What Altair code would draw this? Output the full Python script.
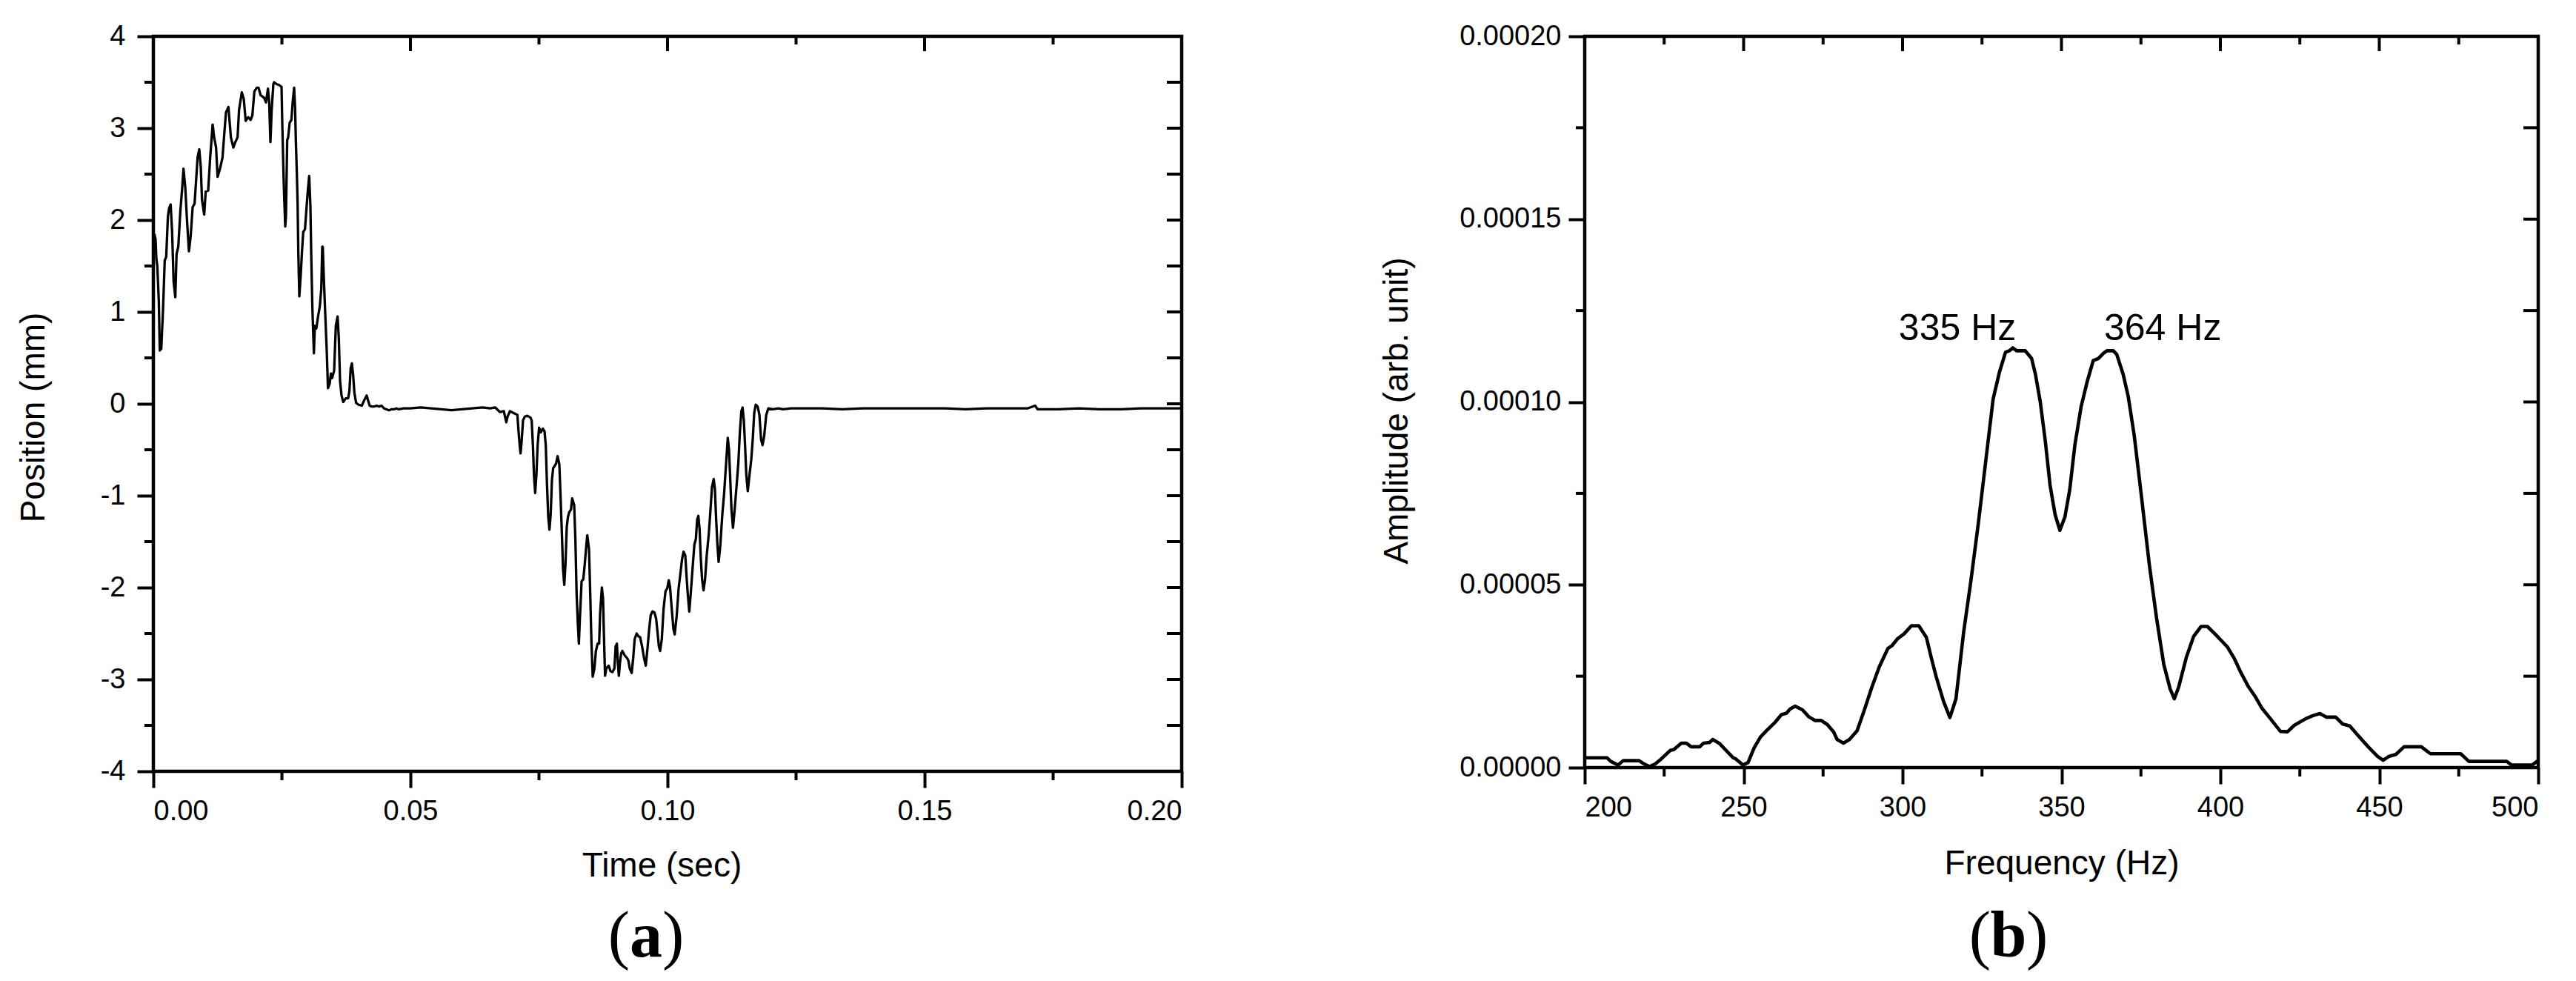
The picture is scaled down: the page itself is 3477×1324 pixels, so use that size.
import altair as alt
import pandas as pd

# ---------------- data: panel (a) position vs time (t in ms, position in mm) ----------------
rise = [(0.19, 1.85), (0.43, 1.79), (0.58, 1.58), (0.77, 1.50), (1.06, 1.12), (1.25, 0.58), (1.54, 0.60),
        (1.87, 1.01), (2.21, 1.56), (2.50, 1.60), (2.83, 2.04), (3.07, 2.13), (3.36, 2.17), (3.65, 1.87),
        (3.94, 1.33), (4.27, 1.16), (4.51, 1.63), (4.85, 1.71), (5.24, 2.09), (5.62, 2.36), (5.86, 2.56),
        (6.20, 2.36), (6.53, 2.01), (6.92, 1.66), (7.25, 1.82), (7.64, 2.14), (8.02, 2.18), (8.36, 2.47),
        (8.60, 2.68), (8.93, 2.77), (9.22, 2.58), (9.46, 2.22), (9.89, 2.06), (10.18, 2.31), (10.66, 2.32),
        (11.05, 2.68), (11.53, 3.04), (11.82, 2.90), (12.20, 2.79), (12.49, 2.47), (12.92, 2.55),
        (13.45, 2.68), (13.74, 2.90), (14.12, 3.17), (14.60, 3.23), (15.08, 2.90), (15.56, 2.79),
        (15.95, 2.85), (16.38, 2.90), (16.67, 3.20), (17.20, 3.39), (17.58, 3.32), (17.96, 3.08),
        (18.44, 3.12), (18.92, 3.09), (19.26, 3.14), (19.64, 3.40), (20.12, 3.44), (20.46, 3.44),
        (20.85, 3.36), (21.57, 3.33), (21.90, 3.28), (22.29, 3.43), (22.53, 3.28), (22.77, 2.85)]

fall = [(23.01, 3.20), (23.34, 3.48), (23.49, 3.50), (23.97, 3.48), (24.45, 3.47), (24.93, 3.45),
        (25.07, 3.06), (25.27, 2.60), (25.41, 2.31), (25.65, 1.93), (25.79, 2.04), (26.03, 2.87),
        (26.22, 2.90), (26.51, 3.06), (26.85, 3.09), (27.09, 3.28), (27.38, 3.44), (27.57, 3.22),
        (27.71, 2.87), (27.90, 2.52), (28.05, 2.20), (28.19, 1.66), (28.39, 1.17), (28.67, 1.41),
        (28.91, 1.66), (29.15, 1.87), (29.49, 1.90), (29.88, 2.20), (30.11, 2.36), (30.31, 2.48),
        (30.55, 2.14), (30.69, 1.66), (30.93, 1.04), (31.22, 0.55), (31.41, 0.85), (31.70, 0.82),
        (32.03, 0.95), (32.37, 1.06), (32.66, 1.25), (32.85, 1.71), (32.95, 1.71), (33.14, 1.39),
        (33.43, 0.98), (33.72, 0.58), (33.96, 0.17), (34.29, 0.22), (34.53, 0.33), (34.77, 0.28),
        (35.16, 0.36), (35.49, 0.85), (35.83, 0.95), (36.07, 0.71), (36.31, 0.25), (36.60, 0.09),
        (36.93, 0.02), (37.41, 0.06), (37.89, 0.06), (38.13, 0.14), (38.38, 0.39), (38.62, 0.44),
        (38.86, 0.31), (39.10, 0.12), (39.43, 0.01), (39.91, -0.01), (40.54, -0.02), (41.02, 0.04),
        (41.50, 0.09), (41.74, 0.04), (42.07, -0.02), (42.46, -0.03), (42.94, -0.03), (43.42, -0.02),
        (43.90, -0.03), (44.38, -0.02), (44.86, -0.05), (45.34, -0.06), (45.82, -0.07), (46.30, -0.06),
        (46.78, -0.06), (47.26, -0.05), (47.74, -0.06), (48.70, -0.05)]

rest1 = [(50.0, -0.05), (52.0, -0.04), (54.0, -0.05), (56.0, -0.06), (58.0, -0.07), (60.0, -0.06),
         (62.0, -0.05), (64.0, -0.04), (65.5, -0.05), (66.5, -0.04), (67.4, -0.09)]

dip = [(68.16, -0.08), (68.40, -0.14), (68.64, -0.20), (68.88, -0.14), (69.36, -0.08), (70.08, -0.10),
       (70.80, -0.12), (71.04, -0.31), (71.28, -0.47), (71.42, -0.54), (71.61, -0.42), (71.90, -0.18),
       (72.24, -0.14), (72.72, -0.13), (73.34, -0.15), (73.58, -0.18), (73.82, -0.45), (74.02, -0.77),
       (74.26, -0.97), (74.50, -0.77), (74.74, -0.45), (75.02, -0.26), (75.36, -0.31), (75.74, -0.27),
       (76.08, -0.30), (76.32, -0.45), (76.56, -0.88), (76.80, -1.23), (77.04, -1.37), (77.28, -1.20),
       (77.52, -0.83), (77.76, -0.70), (78.00, -0.68), (78.33, -0.65), (78.62, -0.57), (78.96, -0.66),
       (79.20, -1.01), (79.44, -1.39), (79.68, -1.80), (79.92, -1.97), (80.16, -1.74), (80.40, -1.34),
       (80.64, -1.23), (80.88, -1.18), (81.22, -1.15), (81.46, -1.03), (81.84, -1.10), (82.08, -1.47),
       (82.32, -2.07), (82.56, -2.39), (82.76, -2.61), (82.95, -2.34), (83.29, -1.93), (83.62, -1.91),
       (83.91, -1.74), (84.15, -1.58), (84.39, -1.43), (84.73, -1.58), (84.97, -2.07), (85.21, -2.61),
       (85.45, -2.97), (85.78, -2.88), (86.07, -2.69), (86.41, -2.61), (86.70, -2.61), (86.89, -2.28),
       (87.23, -2.00), (87.46, -2.12), (87.61, -2.47), (87.85, -2.96), (88.09, -2.88), (88.57, -2.85),
       (88.90, -2.91), (89.29, -2.92), (89.67, -2.88), (89.91, -2.64), (90.15, -2.61), (90.35, -2.83),
       (90.54, -2.96), (90.73, -2.83), (90.97, -2.72), (91.21, -2.69), (91.69, -2.74), (92.17, -2.77),
       (92.41, -2.80), (92.65, -2.88)]

recover = [(93.03, -2.93), (93.32, -2.77), (93.61, -2.56), (94.00, -2.50), (94.33, -2.53), (94.67, -2.54),
           (95.05, -2.64), (95.44, -2.77), (95.77, -2.85), (96.11, -2.66), (96.40, -2.47), (96.73, -2.30),
           (97.07, -2.26), (97.45, -2.27), (97.79, -2.34), (98.08, -2.50), (98.32, -2.64), (98.56, -2.69),
           (98.89, -2.56), (99.23, -2.23), (99.61, -2.04), (99.95, -2.01), (100.24, -1.92), (100.48, -1.99),
           (100.82, -2.23), (101.15, -2.45), (101.39, -2.51), (101.78, -2.31), (102.16, -2.01),
           (102.50, -1.85), (102.83, -1.69), (103.12, -1.61), (103.46, -1.65), (103.70, -1.88),
           (103.94, -2.07), (104.23, -2.26), (104.51, -2.07), (104.90, -1.77), (105.23, -1.53),
           (105.52, -1.47), (105.76, -1.26), (106.00, -1.22), (106.24, -1.37), (106.48, -1.69),
           (106.72, -1.91), (107.01, -2.03), (107.30, -1.91), (107.64, -1.64), (108.02, -1.42),
           (108.36, -1.15), (108.64, -0.91), (108.98, -0.82), (109.22, -0.93), (109.46, -1.26),
           (109.70, -1.53), (109.94, -1.72), (110.28, -1.53), (110.66, -1.20), (110.99, -0.99),
           (111.38, -0.66), (111.72, -0.37), (111.96, -0.50), (112.20, -0.82), (112.44, -1.15),
           (112.73, -1.35), (113.06, -1.15), (113.45, -0.88), (113.78, -0.64), (114.07, -0.31),
           (114.36, -0.08), (114.60, -0.04), (114.84, -0.18), (115.08, -0.45), (115.32, -0.77),
           (115.61, -0.95), (115.95, -0.77), (116.28, -0.61), (116.57, -0.39), (116.86, -0.10),
           (117.15, -0.01), (117.53, -0.03), (117.87, -0.12), (118.20, -0.39), (118.49, -0.45),
           (118.80, -0.35), (119.20, -0.12), (119.60, -0.05), (120.50, -0.06), (121.50, -0.05),
           (122.50, -0.06)]

rest2 = [(124, -0.05), (127, -0.05), (130, -0.05), (134, -0.06), (138, -0.05), (142, -0.05), (146, -0.05),
         (150, -0.05), (154, -0.05), (158, -0.06), (162, -0.05), (166, -0.05), (170, -0.05), (171.5, -0.02),
         (172, -0.06), (176, -0.06), (180, -0.05), (184, -0.06), (188, -0.06), (192, -0.05), (196, -0.05),
         (200, -0.05)]

# ---------------- data: panel (b) spectrum (Hz, amplitude x 1e-5) ----------------
spec_low = [(200.0, 0.27), (207.0, 0.27), (208.2, 0.17), (210.5, 0.07), (212.1, 0.19), (217.1, 0.19),
            (218.7, 0.10), (220.4, 0.03), (222.2, 0.10), (224.1, 0.24), (226.9, 0.47), (228.0, 0.49),
            (230.4, 0.67), (231.9, 0.67), (233.5, 0.57), (236.2, 0.57), (237.4, 0.67), (239.3, 0.69),
            (240.3, 0.77), (242.4, 0.66), (244.8, 0.44), (246.7, 0.27), (247.5, 0.24), (249.8, 0.07),
            (251.4, 0.14), (253.3, 0.54), (255.3, 0.84), (257.2, 1.01), (260.0, 1.25), (261.9, 1.45),
            (263.5, 1.49), (264.6, 1.60), (266.2, 1.68), (268.5, 1.58), (270.5, 1.39), (272.4, 1.29),
            (274.4, 1.29), (276.3, 1.18), (278.3, 0.98), (279.4, 0.77), (281.4, 0.67), (283.3, 0.77),
            (285.7, 1.01), (288.0, 1.58), (290.3, 2.19), (292.7, 2.76), (295.4, 3.26), (296.6, 3.33),
            (298.5, 3.53), (300.5, 3.66)]
spec_mid = [(302.8, 3.88), (305.1, 3.88), (307.5, 3.56), (309.0, 3.02), (310.6, 2.48), (312.9, 1.81),
            (314.9, 1.37), (316.8, 1.88), (319.2, 3.69), (321.5, 5.11), (323.8, 6.65), (326.2, 8.40),
            (328.5, 10.08), (330.5, 10.82), (332.4, 11.36), (333.6, 11.40), (334.7, 11.48), (335.9, 11.40),
            (338.6, 11.40), (340.6, 11.19), (341.8, 10.76), (343.3, 10.02), (344.9, 8.94), (346.4, 7.73),
            (348.0, 6.92), (349.5, 6.49), (351.1, 6.86), (352.6, 7.60), (354.2, 8.81), (356.2, 9.88),
            (358.1, 10.56), (360.0, 11.13), (361.6, 11.19), (363.2, 11.33), (364.3, 11.40), (366.3, 11.40),
            (367.4, 11.30), (369.4, 10.76), (371.0, 10.15), (372.9, 9.08), (375.2, 7.39), (377.6, 5.58),
            (379.9, 4.10), (382.2, 2.82), (384.2, 2.15), (385.5, 1.88), (386.9, 2.21), (389.3, 3.02),
            (391.6, 3.59), (393.9, 3.86), (395.9, 3.86), (398.6, 3.63), (400.9, 3.42)]
spec_high = [(402.2, 3.30), (404.4, 2.98), (406.5, 2.59), (408.7, 2.23), (410.9, 1.95), (413.1, 1.62),
             (416.0, 1.31), (418.9, 0.99), (421.1, 0.98), (423.3, 1.16), (426.9, 1.34), (429.1, 1.42),
             (431.3, 1.48), (433.4, 1.38), (436.3, 1.38), (438.5, 1.19), (440.7, 1.14), (443.6, 0.85),
             (446.5, 0.57), (449.4, 0.31), (451.2, 0.20), (453.1, 0.31), (455.2, 0.36), (457.8, 0.57),
             (463.2, 0.57), (466.1, 0.38), (475.6, 0.38), (478.2, 0.17), (490.1, 0.17), (491.6, 0.07),
             (498.1, 0.07), (499.6, 0.17), (500.0, 0.17)]

peak_labels = ["335 Hz", "364 Hz"]
peak_label_f = [298.8, 363.4]
peak_label_amp = [0.0001169, 0.0001169]

# ticks
a_xticks = [0.0, 0.05, 0.10, 0.15, 0.20]
a_xminor = [0.025, 0.075, 0.125, 0.175]
a_yticks = [-4, -3, -2, -1, 0, 1, 2, 3, 4]
a_yminor = [-3.5, -2.5, -1.5, -0.5, 0.5, 1.5, 2.5, 3.5]
b_xticks = [200, 250, 300, 350, 400, 450, 500]
b_xminor = [225, 275, 325, 375, 425, 475]
b_yticks = [0.0, 0.00005, 0.00010, 0.00015, 0.00020]
b_yminor = [0.000025, 0.000075, 0.000125, 0.000175]

SANS = "Liberation Sans"
SERIF = "Liberation Serif"
LW, LH = 1388, 992
RW, RH = 1287, 987

pos_rows = rise + fall + rest1 + dip + recover + rest2
df_a = pd.DataFrame({"t": [r[0] / 1000.0 for r in pos_rows], "pos": [r[1] for r in pos_rows]})
spec_rows = spec_low + spec_mid + spec_high
df_b = pd.DataFrame({"f": [r[0] for r in spec_rows], "amp": [r[1] * 1e-5 for r in spec_rows]})

XA = alt.X("t:Q", scale=alt.Scale(domain=[0, 0.2], nice=False, zero=False),
           axis=alt.Axis(values=a_xticks, format=".2f", title="Time (sec)", tickSize=22,
                         labelPadding=13, titleY=105, titleX=686, titleAlign="center"))
YA = alt.Y("pos:Q", scale=alt.Scale(domain=[-4, 4], nice=False, zero=False),
           axis=alt.Axis(values=a_yticks, labelExpr="'' + datum.value", title="Position (mm)", tickSize=22,
                         labelPadding=16, titleX=-161.5, titleY=514, titleAngle=270,
                         titleBaseline="middle", titleAlign="center"))

XB = alt.X("f:Q", scale=alt.Scale(domain=[200, 500], nice=False, zero=False),
           axis=alt.Axis(values=b_xticks, format="d", title="Frequency (Hz)", tickSize=22,
                         labelPadding=13, titleY=107, titleAlign="center"))
YB = alt.Y("amp:Q", scale=alt.Scale(domain=[0, 0.0002], nice=False, zero=False),
           axis=alt.Axis(values=b_yticks, format=".5f", title="Amplitude (arb. unit)", tickSize=22,
                         labelPadding=10, titleX=-254, titleY=505, titleAngle=270,
                         titleBaseline="middle", titleAlign="center"))


def rules_x(vals, field, X, y0, y1):
    return alt.Chart(pd.DataFrame({field: vals})).mark_rule(color="black", strokeWidth=4).encode(
        x=X, y=alt.value(y0), y2=alt.value(y1))


def rules_y(vals, field, Y, x0, x1):
    return alt.Chart(pd.DataFrame({field: vals})).mark_rule(color="black", strokeWidth=4).encode(
        y=Y, x=alt.value(x0), x2=alt.value(x1))


def panel_label(letter, cx, half, base):
    one = pd.DataFrame({"k": [0]})
    p1 = alt.Chart(one).mark_text(text="(", font=SERIF, fontSize=88, align="right", baseline="alphabetic",
                                  color="black").encode(x=alt.value(cx - half), y=alt.value(base))
    p2 = alt.Chart(one).mark_text(text=letter, font=SERIF, fontSize=88, fontWeight="bold", align="center",
                                  baseline="alphabetic", color="black").encode(x=alt.value(cx), y=alt.value(base))
    p3 = alt.Chart(one).mark_text(text=")", font=SERIF, fontSize=88, align="left", baseline="alphabetic",
                                  color="black").encode(x=alt.value(cx + half), y=alt.value(base))
    return [p1, p2, p3]


line_a = alt.Chart(df_a).mark_line(color="black", strokeWidth=3.3, strokeJoin="round").encode(x=XA, y=YA)
left = alt.layer(
    line_a,
    rules_x(a_xminor, "t", XA, LH, LH + 12),
    rules_x([0.05, 0.10, 0.15], "t", XA, 0, 20),
    rules_x(a_xminor, "t", XA, 0, 11),
    rules_y(a_yminor, "pos", YA, 0, -12),
    rules_y(a_yminor + [-3, -2, -1, 0, 1, 2, 3], "pos", YA, LW, LW - 20),
    *panel_label("a", 665, 22, 1242),
).properties(width=LW, height=LH)

line_b = alt.Chart(df_b).mark_line(color="black", strokeWidth=4.6, strokeJoin="round").encode(x=XB, y=YB)
df_lab = pd.DataFrame({"f": peak_label_f, "amp": peak_label_amp, "txt": peak_labels})
labels_b = alt.Chart(df_lab).mark_text(font=SANS, fontSize=50, align="left", baseline="alphabetic",
                                       color="black").encode(x=XB, y=YB, text="txt:N")
right = alt.layer(
    line_b,
    labels_b,
    rules_x(b_xminor, "f", XB, RH, RH + 12),
    rules_x([250, 300, 350, 400, 450], "f", XB, 0, 20),
    rules_x(b_xminor, "f", XB, 0, 11),
    rules_y(b_yminor, "amp", YB, 0, -12),
    rules_y(b_yminor + [0.00005, 0.0001, 0.00015], "amp", YB, RW, RW - 20),
    *panel_label("b", 572, 24, 1242),
).properties(width=RW, height=RH)

chart = alt.hconcat(left, right, spacing=259).properties(
    padding={"left": 12, "top": 19, "right": 5, "bottom": 0}
).configure_view(stroke="black", strokeWidth=4.5).configure_axis(
    labelFont=SANS, titleFont=SANS, labelFontSize=38, titleFontSize=46, labelColor="black",
    titleColor="black", titleFontWeight="normal", grid=False, domain=False, tickColor="black",
    tickWidth=4
)

chart.save("out.html", embed_options={"renderer": "svg", "actions": False})
